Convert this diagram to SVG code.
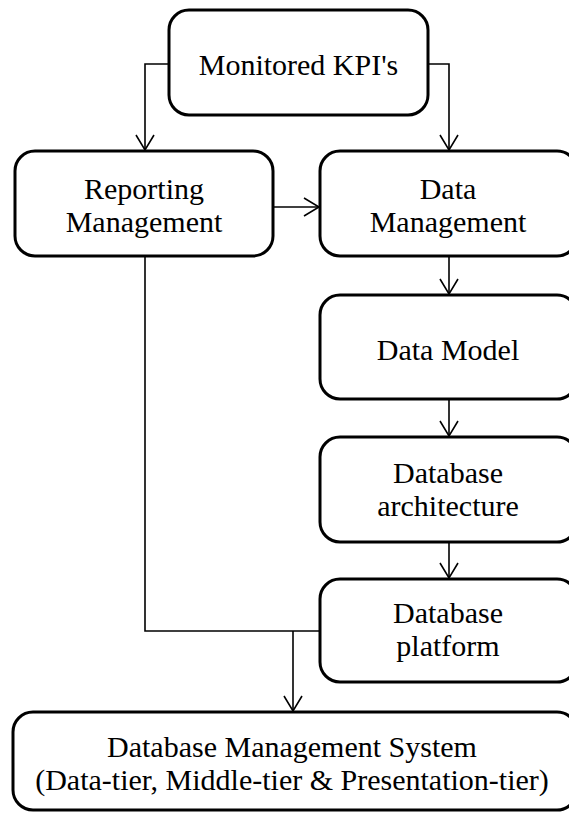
<svg xmlns="http://www.w3.org/2000/svg" width="569" height="813" viewBox="0 0 569 813">
  <style>
    .box { fill: #ffffff; stroke: #000000; stroke-width: 3; }
    .lbl { font-family: "Liberation Serif", "Times New Roman", serif; font-size: 30px; fill: #000000; text-anchor: middle; }
    .wire { fill: none; stroke: #000000; stroke-width: 1.6; }
  </style>
  <defs>
    <marker id="open-arrow" markerUnits="userSpaceOnUse" markerWidth="20" markerHeight="22" refX="16" refY="10" orient="auto">
      <polyline points="1,1 16,10 1,19" fill="none" stroke="#000000" stroke-width="1.6"/>
    </marker>
  </defs>

  <rect width="569" height="813" fill="#ffffff"/>

  <!-- connectors -->
  <g id="connectors">
    <path class="wire" d="M169,64 H145 V150" marker-end="url(#open-arrow)"/>
    <path class="wire" d="M428,64 H449 V150" marker-end="url(#open-arrow)"/>
    <path class="wire" d="M273,207 H319" marker-end="url(#open-arrow)"/>
    <path class="wire" d="M449,256 V294" marker-end="url(#open-arrow)"/>
    <path class="wire" d="M449,399 V436" marker-end="url(#open-arrow)"/>
    <path class="wire" d="M449,542 V578" marker-end="url(#open-arrow)"/>
    <path class="wire" d="M145,256 V631 H320"/>
    <path class="wire" d="M293,631 V711" marker-end="url(#open-arrow)"/>
  </g>

  <g id="node-kpi">
    <rect class="box" x="169" y="10" width="259" height="105" rx="20"/>
    <text class="lbl" x="298.5" y="75">Monitored KPI's</text>
  </g>

  <g id="node-reporting">
    <rect class="box" x="15" y="151" width="258" height="105" rx="20"/>
    <text class="lbl" x="144" y="199">Reporting</text>
    <text class="lbl" x="144" y="232">Management</text>
  </g>

  <g id="node-data-management">
    <rect class="box" x="320" y="151" width="257" height="105" rx="20"/>
    <text class="lbl" x="448" y="199">Data</text>
    <text class="lbl" x="448" y="232">Management</text>
  </g>

  <g id="node-data-model">
    <rect class="box" x="320" y="295" width="257" height="104" rx="20"/>
    <text class="lbl" x="448" y="360">Data Model</text>
  </g>

  <g id="node-db-architecture">
    <rect class="box" x="320" y="437" width="257" height="105" rx="20"/>
    <text class="lbl" x="448" y="483">Database</text>
    <text class="lbl" x="448" y="516">architecture</text>
  </g>

  <g id="node-db-platform">
    <rect class="box" x="320" y="579" width="257" height="103" rx="20"/>
    <text class="lbl" x="448" y="623">Database</text>
    <text class="lbl" x="448" y="656">platform</text>
  </g>

  <g id="node-dbms">
    <rect class="box" x="13" y="712" width="564" height="98" rx="20"/>
    <text class="lbl" x="292" y="757">Database Management System</text>
    <text class="lbl" x="292" y="790">(Data-tier, Middle-tier &amp; Presentation-tier)</text>
  </g>
</svg>
